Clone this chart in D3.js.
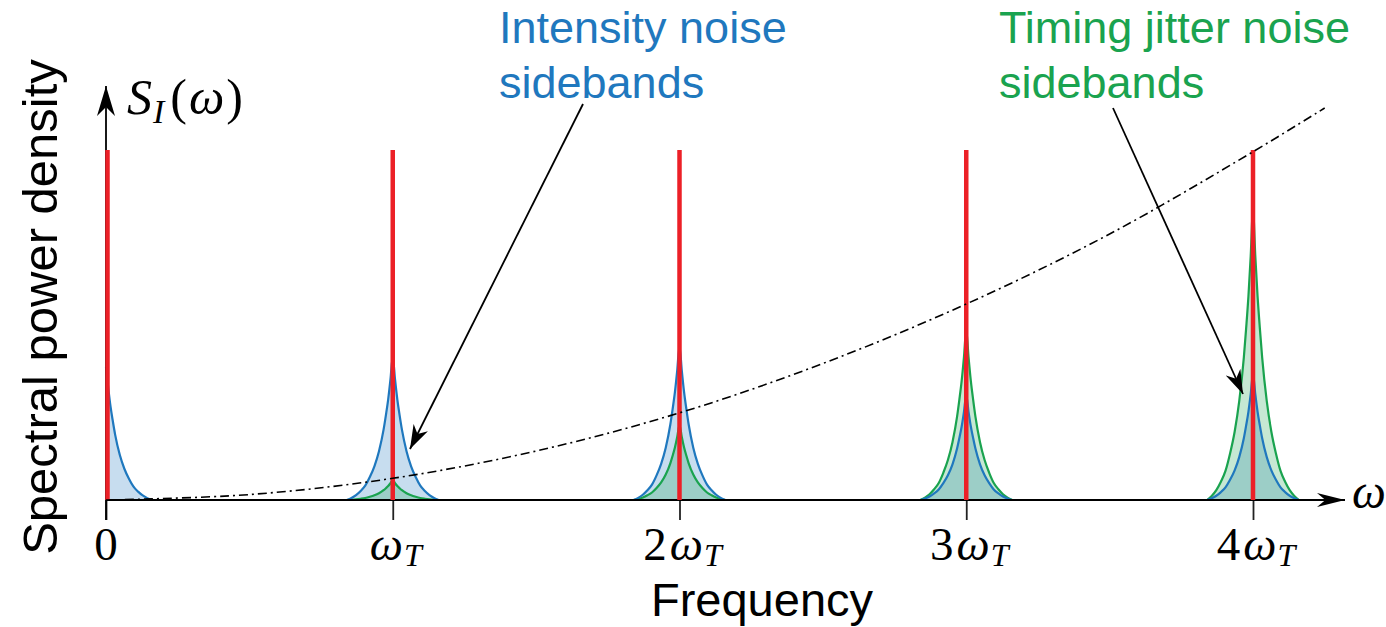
<!DOCTYPE html>
<html>
<head>
<meta charset="utf-8">
<script src="https://cdn.jsdelivr.net/npm/d3@7"></script>
<style>
  html, body { margin: 0; padding: 0; background: #fff; }
  svg { display: block; }
</style>
</head>
<body>
<svg id="chart" width="1386" height="627"></svg>
<script>
// ---------------- data ----------------
const harmonics = [0, 1, 2, 3, 4];                       // multiples of ω_T
const tickPrefix = ["0", "", "2", "3", "4"];              // coefficient before ω_T
const carrierHeight = [1, 1, 1, 1, 1];                    // red carrier lines
const intensityPeak = [0.38, 0.41, 0.44, 0.30, 0.36];     // blue sideband peaks
const timingPeak = [0, 0.057, 0.214, 0.486, 0.83];       // green sideband peaks
const sidebandHalfWidth = 0.16;                           // in units of ω_T
// normalised sideband profile
const profileOffset = [0, 0.05, 0.1, 0.15, 0.2, 0.3, 0.4, 0.5, 0.6, 0.7, 0.8, 0.9, 1.0];
const profileLevel  = [1, 0.84, 0.70, 0.59, 0.49, 0.34, 0.235, 0.16, 0.10, 0.063, 0.034, 0.014, 0];
// dash-dot ω² trend
const trendOmega = [0, 0.5, 1, 1.5, 2, 2.5, 3, 3.5, 4, 4.25];
const trendValue = [0, 0.0155, 0.062, 0.14, 0.249, 0.39, 0.56, 0.76, 0.995, 1.12];

// ---------------- setup ----------------
const svg = d3.select("#chart");
const x = d3.scaleLinear().domain([0, 4]).range([106, 1253]);
const y = d3.scaleLinear().domain([0, 1]).range([500, 150]);

const BLUE = "#1f78be", GREEN = "#1aa34f", RED = "#ec2027";
const mathFont = "'Liberation Serif', 'Times New Roman', serif";
const sansFont = "'Liberation Sans', Arial, Helvetica, sans-serif";

const defs = svg.append("defs");
function arrowMarker(id, len, half) {
  defs.append("marker")
    .attr("id", id)
    .attr("viewBox", `0 ${-half} ${len} ${2 * half}`)
    .attr("refX", len).attr("refY", 0)
    .attr("markerWidth", len).attr("markerHeight", 2 * half)
    .attr("markerUnits", "userSpaceOnUse")
    .attr("orient", "auto")
    .append("path")
    .attr("d", `M0,${-half} L${len},0 L0,${half} L${len * 0.3},0 Z`)
    .attr("fill", "#000");
}
arrowMarker("axArrowX", 28, 7);
arrowMarker("axArrowY", 30, 9);
arrowMarker("annArrow", 24, 8);

// ---------------- sidebands ----------------
function sidebandPoints(center, peak, oneSided) {
  const pts = [];
  if (!oneSided) {
    for (let i = profileOffset.length - 1; i > 0; i--)
      pts.push([center - profileOffset[i] * sidebandHalfWidth, peak * profileLevel[i]]);
  }
  for (let i = 0; i < profileOffset.length; i++)
    pts.push([center + profileOffset[i] * sidebandHalfWidth, peak * profileLevel[i]]);
  return pts;
}
const area = d3.area().x(d => x(d[0])).y0(y(0)).y1(d => y(d[1])).curve(d3.curveMonotoneX);
const line = d3.line().x(d => x(d[0])).y(d => y(d[1])).curve(d3.curveMonotoneX);

const bands = svg.append("g");
harmonics.forEach((h, i) => {
  const oneSided = h === 0;
  const bp = sidebandPoints(h, intensityPeak[i], oneSided);
  bands.append("path").attr("d", area(bp)).attr("fill", BLUE).attr("fill-opacity", 0.25);
  if (timingPeak[i] > 0) {
    const gp = sidebandPoints(h, timingPeak[i], oneSided);
    bands.append("path").attr("d", area(gp)).attr("fill", GREEN).attr("fill-opacity", 0.25);
    bands.append("path").attr("d", line(gp)).attr("fill", "none")
      .attr("stroke", GREEN).attr("stroke-width", 2.2);
  }
  bands.append("path").attr("d", line(bp)).attr("fill", "none")
    .attr("stroke", BLUE).attr("stroke-width", 2.2);
});

// ---------------- axes ----------------
const xAxis = d3.axisBottom(x).tickValues(harmonics).tickFormat("").tickSizeInner(20).tickSizeOuter(0);
const gx = svg.append("g").attr("transform", `translate(0,${y(0)})`).call(xAxis);
gx.select(".domain").remove();
gx.selectAll(".tick line").attr("stroke", "#222").attr("stroke-width", 1.8);

svg.append("line")
  .attr("x1", x(0)).attr("y1", y(0)).attr("x2", 1345).attr("y2", y(0))
  .attr("stroke", "#000").attr("stroke-width", 1.8).attr("marker-end", "url(#axArrowX)");
svg.append("line")
  .attr("x1", x(0)).attr("y1", y(0) + 20).attr("x2", x(0)).attr("y2", 86)
  .attr("stroke", "#000").attr("stroke-width", 1.8).attr("marker-end", "url(#axArrowY)");

// ---------------- carriers ----------------
svg.append("g").selectAll("line").data(harmonics).join("line")
  .attr("x1", (d, i) => x(d) + (i === 0 ? 1.5 : 0))
  .attr("x2", (d, i) => x(d) + (i === 0 ? 1.5 : 0))
  .attr("y1", y(0)).attr("y2", (d, i) => y(carrierHeight[i]))
  .attr("stroke", RED).attr("stroke-width", 4.5);

// ---------------- trend ----------------
svg.append("path")
  .attr("d", d3.line().x((d, i) => x(trendOmega[i])).y(d => y(d)).curve(d3.curveCatmullRom)(trendValue))
  .attr("fill", "none").attr("stroke", "#000").attr("stroke-width", 1.6)
  .attr("stroke-dasharray", "9,4,2,4");

// ---------------- tick labels ----------------
const tl = svg.append("g").selectAll("text").data(harmonics).join("text")
  .attr("x", d => x(d) + (d === 0 ? 0 : 3)).attr("y", 560)
  .attr("text-anchor", "middle")
  .attr("font-family", mathFont).attr("font-size", 47).attr("fill", "#000");
tl.each(function(d, i) {
  const t = d3.select(this);
  if (d === 0) { t.text(tickPrefix[i]); return; }
  if (tickPrefix[i]) t.append("tspan").text(tickPrefix[i]);
  t.append("tspan").attr("font-style", "italic").attr("dx", tickPrefix[i] ? 3 : 0).text("ω");
  t.append("tspan").attr("font-style", "italic").attr("font-size", 32).attr("dx", 1).attr("dy", 6).text("T");
});

// ---------------- axis titles ----------------
const sLab = svg.append("text").attr("x", 127).attr("y", 114)
  .attr("font-family", mathFont).attr("font-size", 50).attr("fill", "#000");
sLab.append("tspan").attr("font-style", "italic").text("S");
sLab.append("tspan").attr("font-style", "italic").attr("font-size", 34).attr("dx", 1).attr("dy", 9).text("I");
sLab.append("tspan").attr("dy", -9).attr("dx", 6).text("(");
sLab.append("tspan").attr("font-style", "italic").attr("dx", 2).text("ω");
sLab.append("tspan").attr("dx", 2).text(")");

svg.append("text").attr("x", 1352).attr("y", 508)
  .attr("font-family", mathFont).attr("font-style", "italic").attr("font-size", 48)
  .text("ω");

svg.append("text")
  .attr("transform", "translate(57,307) rotate(-90)")
  .attr("text-anchor", "middle")
  .attr("font-family", sansFont).attr("font-size", 49).attr("fill", "#000")
  .text("Spectral power density");

svg.append("text")
  .attr("x", 762).attr("y", 616).attr("text-anchor", "middle")
  .attr("font-family", sansFont).attr("font-size", 47).attr("fill", "#000")
  .text("Frequency");

// ---------------- annotations ----------------
function annotation(lines, x0, color) {
  const t = svg.append("text").attr("font-family", sansFont).attr("font-size", 45).attr("fill", color);
  lines.forEach((s, i) => t.append("tspan").attr("x", x0).attr("y", 43 + i * 55).text(s));
}
annotation(["Intensity noise", "sidebands"], 499, BLUE);
annotation(["Timing jitter noise", "sidebands"], 999, GREEN);

svg.append("line").attr("x1", 583).attr("y1", 104).attr("x2", 410).attr("y2", 449)
  .attr("stroke", "#000").attr("stroke-width", 1.8).attr("marker-end", "url(#annArrow)");
svg.append("line").attr("x1", 1113).attr("y1", 108).attr("x2", 1243).attr("y2", 394)
  .attr("stroke", "#000").attr("stroke-width", 1.8).attr("marker-end", "url(#annArrow)");
</script>
</body>
</html>
